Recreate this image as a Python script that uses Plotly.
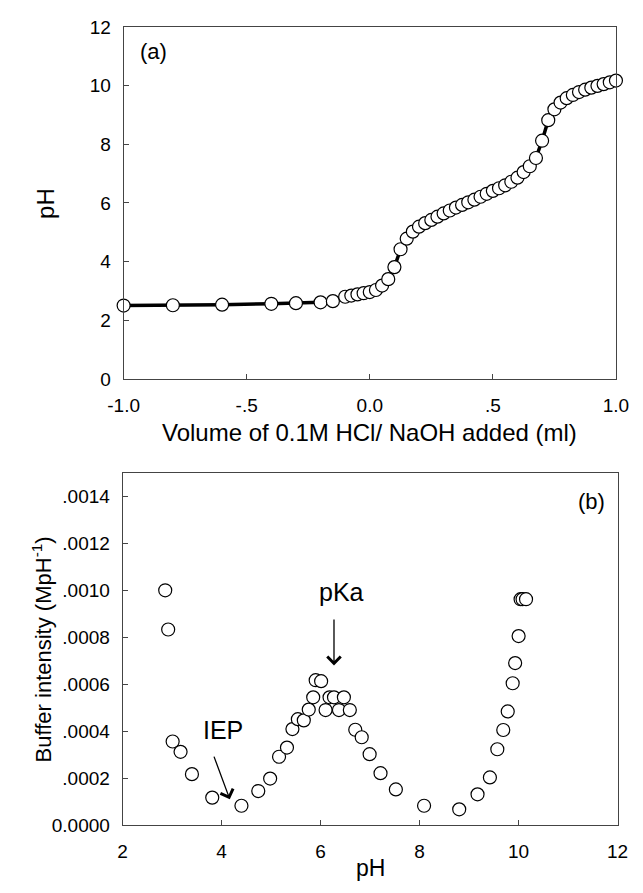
import plotly.graph_objects as go

# ---- Panel (a): titration curve ----
vol_added = [-1.0, -0.8, -0.6, -0.4, -0.3, -0.2, -0.15,
             -0.1, -0.075, -0.05, -0.025, 0.0, 0.025, 0.05, 0.075, 0.1, 0.125,
             0.15, 0.175, 0.2, 0.225, 0.25, 0.275, 0.3, 0.325, 0.35, 0.375,
             0.4, 0.425, 0.45, 0.475, 0.5, 0.525, 0.55, 0.575, 0.6, 0.625,
             0.65, 0.675, 0.7, 0.725, 0.75, 0.775, 0.8, 0.825, 0.85, 0.875,
             0.9, 0.925, 0.95, 0.975, 1.0]
ph_titration = [2.50, 2.51, 2.53, 2.56, 2.58, 2.61, 2.65,
                2.80, 2.84, 2.88, 2.92, 2.96, 3.03, 3.18, 3.40, 3.81, 4.42,
                4.78, 5.02, 5.19, 5.31, 5.42, 5.53, 5.64, 5.74, 5.84, 5.93,
                6.02, 6.11, 6.21, 6.31, 6.41, 6.50, 6.60, 6.72, 6.86, 7.05,
                7.25, 7.53, 8.12, 8.82, 9.19, 9.42, 9.57, 9.68, 9.78, 9.86,
                9.93, 9.99, 10.05, 10.11, 10.17]

# ---- Panel (b): buffer intensity ----
ph_buffer = [2.86, 2.92, 3.01, 3.17, 3.40, 3.81, 4.40, 4.74, 4.98, 5.16,
             5.32, 5.43, 5.54, 5.66, 5.76, 5.85, 5.90, 6.01, 6.10, 6.18,
             6.27, 6.37, 6.47, 6.59, 6.70, 6.83, 6.99, 7.21, 7.52, 8.09,
             8.80, 9.17, 9.42, 9.57, 9.69, 9.78, 9.88, 9.93, 10.00, 10.04,
             10.08, 10.15]
buffer_intensity = [0.001001, 0.000834, 0.000357, 0.000313, 0.000218, 0.000118,
                    0.0000834, 0.000146, 0.000199, 0.000292, 0.000331, 0.000410,
                    0.000452, 0.000447, 0.000493, 0.000545, 0.000618, 0.000614,
                    0.000491, 0.000545, 0.000545, 0.000491, 0.000545, 0.000491,
                    0.000407, 0.000375, 0.000303, 0.000222, 0.000153, 0.0000834,
                    0.0000680, 0.000132, 0.000204, 0.000324, 0.000406, 0.000485,
                    0.000605, 0.000691, 0.000806, 0.000963, 0.000963, 0.000963]

xa_tickvals = [-1.0, -0.5, 0.0, 0.5, 1.0]
xa_ticktext = ["-1.0", "-.5", "0.0", ".5", "1.0"]
yb_tickvals = [0, 0.0002, 0.0004, 0.0006, 0.0008, 0.0010, 0.0012, 0.0014]
yb_ticktext = ["0.0000", ".0002", ".0004", ".0006", ".0008", ".0010", ".0012", ".0014"]

FONT = "Liberation Sans, Arial, sans-serif"
marker_style = dict(size=13, color="white", line=dict(color="black", width=1.2))

fig = go.Figure()
fig.add_trace(go.Scatter(
    x=vol_added, y=ph_titration, mode="lines+markers",
    line=dict(color="black", width=3.5), marker=marker_style,
    cliponaxis=False, xaxis="x", yaxis="y", showlegend=False))
fig.add_trace(go.Scatter(
    x=ph_buffer, y=buffer_intensity, mode="markers",
    marker=marker_style, cliponaxis=False,
    xaxis="x2", yaxis="y2", showlegend=False))

axis_common = dict(showline=True, linecolor="#444", linewidth=1, mirror=True,
                   ticks="inside", ticklen=5, tickcolor="#444", showgrid=False,
                   zeroline=False, tickfont=dict(family=FONT, size=19, color="black"))

fig.update_layout(
    width=643, height=893,
    margin=dict(l=0, r=0, t=0, b=0),
    paper_bgcolor="white", plot_bgcolor="white",
    font=dict(family=FONT, color="black"),
    xaxis=dict(domain=[0.1753, 0.9771], anchor="y", range=[-1, 1],
               tickvals=xa_tickvals, ticktext=xa_ticktext, ticklabelstandoff=9,
               **axis_common),
    yaxis=dict(domain=[0.5770, 0.9806], anchor="x", range=[0, 12],
               tickvals=[0, 2, 4, 6, 8, 10, 12], ticklabelstandoff=8,
               **axis_common),
    xaxis2=dict(domain=[0.1737, 0.9798], anchor="y2", range=[2, 12],
                tickvals=[2, 4, 6, 8, 10, 12], ticklabelstandoff=9,
                **axis_common),
    yaxis2=dict(domain=[0.0650, 0.4689], anchor="x2", range=[0, 0.0015],
                tickvals=yb_tickvals, ticktext=yb_ticktext, ticklabelstandoff=8,
                **axis_common),
)

title_font = dict(family=FONT, size=24, color="black")
ann_font = dict(family=FONT, size=25, color="black")
anns = [
    dict(text="Volume of 0.1M HCl/ NaOH added (ml)", x=0.576, y=1 - 433 / 893,
         xref="paper", yref="paper", showarrow=False, font=title_font,
         xanchor="center", yanchor="middle"),
    dict(text="pH", x=31 / 643, y=1 - 198 / 893, xref="paper", yref="paper",
         showarrow=False, font=title_font, textangle=-90,
         xanchor="center", yanchor="middle"),
    dict(text="Buffer intensity (MpH<sup>-1</sup>)", x=27 / 643, y=1 - 655 / 893,
         xref="paper", yref="paper", showarrow=False,
         font=dict(family=FONT, size=22, color="black"),
         textangle=-90, xanchor="center", yanchor="middle"),
    dict(text="pH", x=0.5767, y=1 - 879 / 893, xref="paper", yref="paper",
         showarrow=False, font=dict(family=FONT, size=23, color="black"),
         xanchor="center", yanchor="middle"),
    dict(text="(a)", x=144 / 643, y=1 - 42.5 / 893, xref="paper", yref="paper",
         showarrow=False, font=dict(family=FONT, size=22, color="black"),
         xanchor="center", yanchor="middle"),
    dict(text="(b)", x=603 / 643, y=1 - 503.3 / 893, xref="paper", yref="paper",
         showarrow=False, font=dict(family=FONT, size=22, color="black"),
         xanchor="center", yanchor="middle"),
    dict(text="pKa", x=6.42, y=0.000994, xref="x2", yref="y2", showarrow=False,
         font=ann_font, xanchor="center", yanchor="middle"),
    dict(text="IEP", x=4.03, y=0.000406, xref="x2", yref="y2", showarrow=False,
         font=ann_font, xanchor="center", yanchor="middle"),
    dict(text="", x=6.27, y=0.000681, ax=6.27, ay=0.000883, xref="x2", yref="y2",
         axref="x2", ayref="y2", showarrow=True, arrowhead=4, arrowsize=2,
         arrowwidth=1.3, arrowcolor="black"),
    dict(text="", x=4.165, y=0.000111, ax=3.835, ay=0.000299, xref="x2", yref="y2",
         axref="x2", ayref="y2", showarrow=True, arrowhead=4, arrowsize=2,
         arrowwidth=1.3, arrowcolor="black"),
]
fig.update_layout(annotations=anns)

fig.write_html("out.html")
